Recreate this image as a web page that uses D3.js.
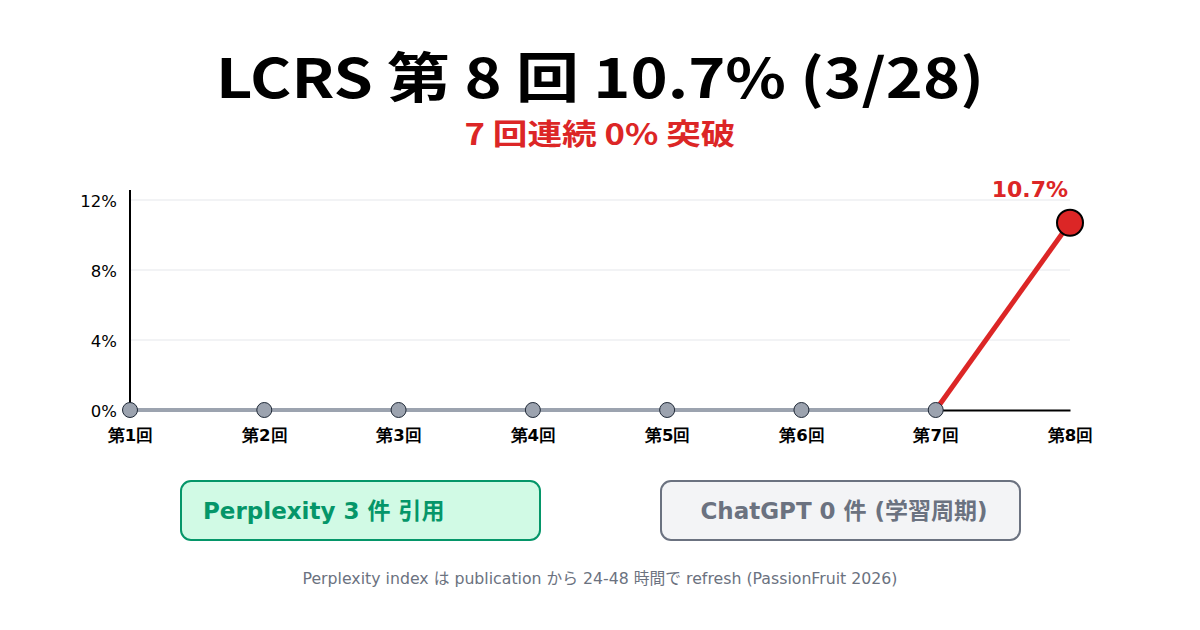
<!DOCTYPE html>
<html>
<head>
<meta charset="utf-8">
<script src="https://cdn.jsdelivr.net/npm/d3@7/dist/d3.min.js"></script>
<style>
  html, body { margin: 0; padding: 0; background: #fff; }
  svg { display: block; }
  .title { font-family: "Noto Sans CJK JP", "Noto Sans", sans-serif; }
  .axis text { font-family: "DejaVu Sans", Verdana, sans-serif; }
</style>
</head>
<body>
<div id="chart"></div>
<script>
// data
const rounds = ["第1回", "第2回", "第3回", "第4回", "第5回", "第6回", "第7回", "第8回"];
const rates = [0, 0, 0, 0, 0, 0, 0, 10.7];
const yTicks = [0, 4, 8, 12];
const badges = ["Perplexity 3 件 引用", "ChatGPT 0 件 (学習周期)"];

const width = 1200, height = 630;
const svg = d3.select("#chart").append("svg")
    .attr("width", width)
    .attr("height", height);

// titles (the reference font runs wider, so stretch to its width)
svg.append("text")
    .attr("class", "title")
    .attr("x", 600).attr("y", 98)
    .attr("text-anchor", "middle")
    .attr("font-size", 54).attr("font-weight", 700)
    .attr("fill", "#000")
    .attr("textLength", 768).attr("lengthAdjust", "spacingAndGlyphs")
    .text("LCRS 第 8 回 10.7% (3/28)");

svg.append("text")
    .attr("class", "title")
    .attr("x", 600).attr("y", 145)
    .attr("text-anchor", "middle")
    .attr("font-size", 29).attr("font-weight", 700)
    .attr("fill", "#dc2626")
    .attr("textLength", 271).attr("lengthAdjust", "spacingAndGlyphs")
    .text("7 回連続 0% 突破");

const x = d3.scalePoint().domain(rounds).range([130, 1070]);
const y = d3.scaleLinear().domain([0, 12]).range([410, 200]);

// gridlines
svg.append("g")
    .selectAll("line")
    .data(yTicks.filter(d => d > 0))
    .join("line")
    .attr("x1", 130).attr("x2", 1070)
    .attr("y1", d => y(d)).attr("y2", d => y(d))
    .attr("stroke", "#e5e7eb").attr("stroke-width", 1);

// y axis
const yAxis = svg.append("g")
    .attr("class", "axis")
    .attr("transform", "translate(130,0)")
    .call(d3.axisLeft(y).tickValues(yTicks).tickFormat(d => d + "%").tickSize(0).tickPadding(13));
yAxis.select(".domain").remove();
yAxis.selectAll("text").attr("font-size", 16.5).attr("fill", "#000").attr("dy", "0.4em");
svg.append("line")
    .attr("x1", 130).attr("x2", 130)
    .attr("y1", 190).attr("y2", 410)
    .attr("stroke", "#000").attr("stroke-width", 2);

// x axis
const xAxis = svg.append("g")
    .attr("class", "axis")
    .attr("transform", "translate(0,410)")
    .call(d3.axisBottom(x).tickSize(0).tickPadding(17));
xAxis.select(".domain").attr("stroke", "#000").attr("stroke-width", 2);
xAxis.selectAll("text")
    .attr("font-size", 16.5).attr("font-weight", 700).attr("fill", "#000")
    .attr("dy", "0.85em");

// lines
const pts = rounds.map((r, i) => ({ r, v: rates[i] }));
const line = d3.line().x(d => x(d.r)).y(d => y(d.v));

svg.append("path")
    .datum(pts.slice(0, 7))
    .attr("d", line)
    .attr("fill", "none")
    .attr("stroke", "#9ca3af").attr("stroke-width", 4);

svg.append("path")
    .datum(pts.slice(6))
    .attr("d", line)
    .attr("fill", "none")
    .attr("stroke", "#dc2626").attr("stroke-width", 5);

svg.append("g")
    .selectAll("circle")
    .data(pts.slice(0, 7))
    .join("circle")
    .attr("cx", d => x(d.r)).attr("cy", d => y(d.v))
    .attr("r", 7.5)
    .attr("fill", "#9ca3af")
    .attr("stroke", "#1f2937").attr("stroke-width", 1);

const last = pts[pts.length - 1];
svg.append("circle")
    .attr("cx", x(last.r)).attr("cy", y(last.v))
    .attr("r", 13)
    .attr("fill", "#dc2626")
    .attr("stroke", "#000").attr("stroke-width", 2);

svg.append("text")
    .attr("x", x(last.r) - 2).attr("y", y(last.v) - 26)
    .attr("text-anchor", "end")
    .attr("font-family", "DejaVu Sans, Verdana, sans-serif")
    .attr("font-size", 22).attr("font-weight", 700)
    .attr("fill", "#dc2626")
    .text(last.v + "%");

// badges
const badgeStyle = [
  { x: 181, fill: "#d1fae5", stroke: "#059669", color: "#059669", tx: 203, anchor: "start" },
  { x: 661, fill: "#f3f4f6", stroke: "#6b7280", color: "#6b7280", tx: 844, anchor: "middle" }
];
badges.forEach((t, i) => {
  const s = badgeStyle[i];
  svg.append("rect")
      .attr("x", s.x).attr("y", 481)
      .attr("width", 359).attr("height", 59)
      .attr("rx", 10)
      .attr("fill", s.fill)
      .attr("stroke", s.stroke).attr("stroke-width", 2);
  svg.append("text")
      .attr("x", s.tx).attr("y", 519)
      .attr("text-anchor", s.anchor)
      .attr("font-family", "DejaVu Sans, Verdana, 'Noto Sans CJK JP', sans-serif")
      .attr("font-size", 23).attr("font-weight", 700)
      .attr("fill", s.color)
      .text(t);
});

// footer
svg.append("text")
    .attr("x", 600).attr("y", 584)
    .attr("text-anchor", "middle")
    .attr("font-family", "DejaVu Sans, Verdana, 'Noto Sans CJK JP', sans-serif")
    .attr("font-size", 15.5)
    .attr("fill", "#6b7280")
    .attr("textLength", 595).attr("lengthAdjust", "spacingAndGlyphs")
    .text("Perplexity index は publication から 24-48 時間で refresh (PassionFruit 2026)");
</script>
</body>
</html>
